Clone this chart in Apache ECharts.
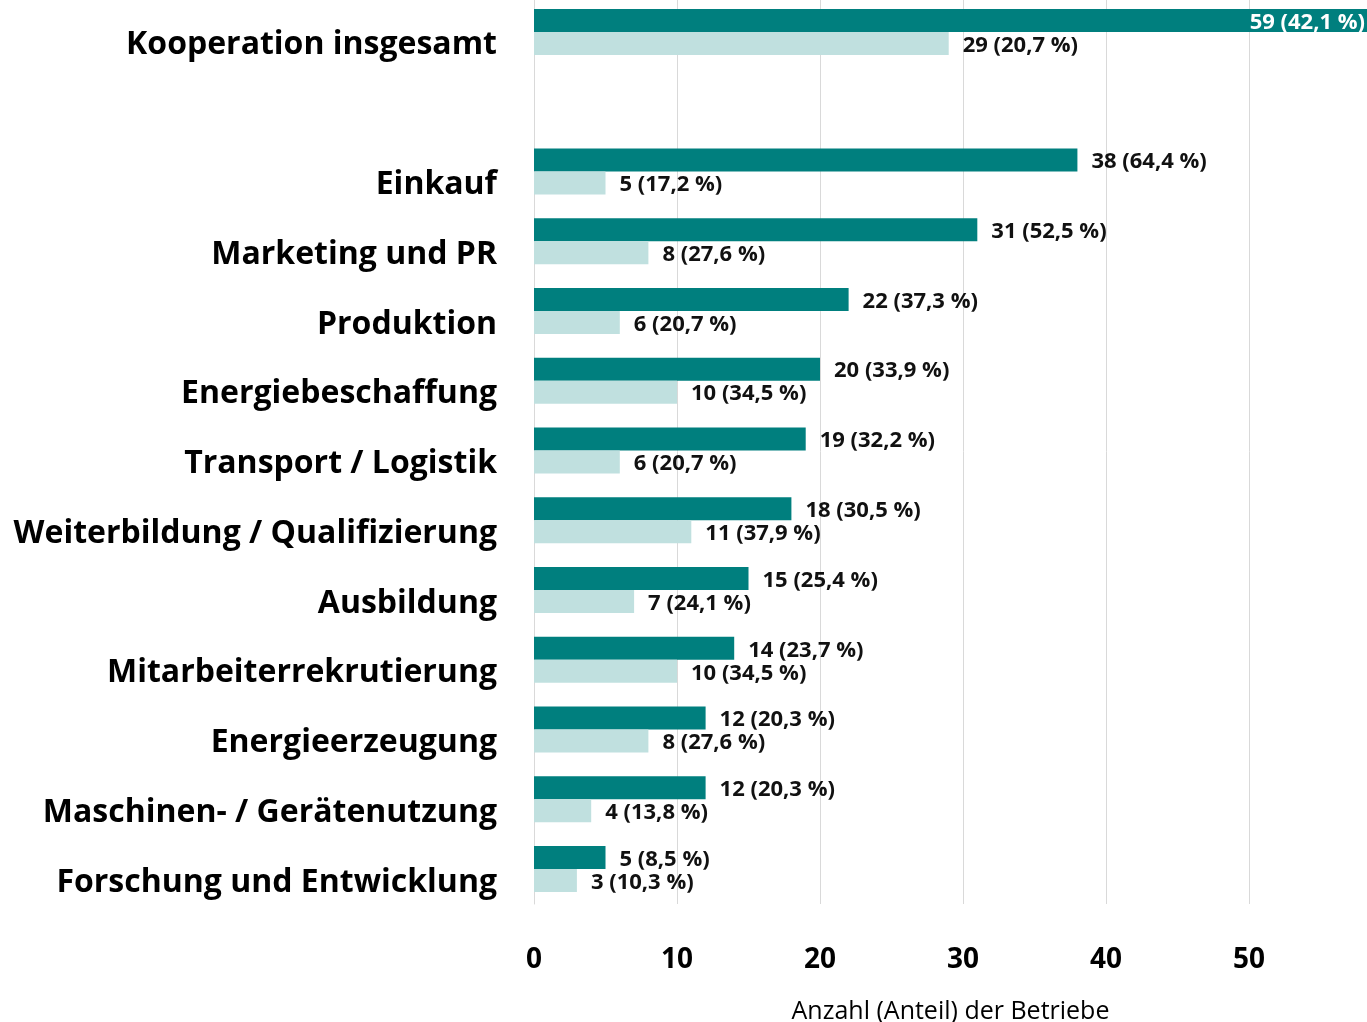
<!DOCTYPE html>
<html>
<head>
<meta charset="utf-8">
<script src="https://cdn.jsdelivr.net/npm/echarts@6/dist/echarts.min.js"></script>
<style>
  html, body { margin: 0; padding: 0; background: #fff; }
  #chart { width: 1367px; height: 1022px; }
</style>
</head>
<body>
<div id="chart"></div>
<script>
// Kategorien von oben nach unten (leere Zeile = Abstand)
const categories = [
    'Kooperation insgesamt', '', 'Einkauf', 'Marketing und PR', 'Produktion',
    'Energiebeschaffung', 'Transport / Logistik', 'Weiterbildung / Qualifizierung',
    'Ausbildung', 'Mitarbeiterrekrutierung', 'Energieerzeugung',
    'Maschinen- / Gerätenutzung', 'Forschung und Entwicklung'
];
const darkCount = [59, null, 38, 31, 22, 20, 19, 18, 15, 14, 12, 12, 5];
const darkShare = ['42,1', null, '64,4', '52,5', '37,3', '33,9', '32,2', '30,5', '25,4', '23,7', '20,3', '20,3', '8,5'];
const lightCount = [29, null, 5, 8, 6, 10, 6, 11, 7, 10, 8, 4, 3];
const lightShare = ['20,7', null, '17,2', '27,6', '20,7', '34,5', '20,7', '37,9', '24,1', '34,5', '27,6', '13,8', '10,3'];
const xTicks = [0, 10, 20, 30, 40, 50];

const fontName = '"Open Sans", Lato, sans-serif';

const makeData = (counts, shares) => counts.map((v, i) => {
    if (v === null) return '-';
    return {value: v, share: shares[i]};
});

const darkData = makeData(darkCount, darkShare);
// erster Balken ragt über den Rand, Beschriftung innen in weiß
darkData[0].label = {position: 'insideRight', color: '#fff', distance: 2};

const chart = echarts.init(document.getElementById('chart'));

const valueLabel = {
    show: true,
    position: 'right',
    distance: 14,
    offset: [0, 2],
    fontFamily: fontName,
    fontWeight: 'bold',
    fontSize: 22,
    color: '#111',
    formatter: p => p.data.value + ' (' + p.data.share + ' %)'
};

const option = {
    backgroundColor: '#fff',
    animation: false,
    grid: {
        left: 534,
        right: 0,
        top: -3,
        bottom: 118,
        outerBoundsMode: 'none'
    },
    xAxis: {
        type: 'value',
        min: 0,
        max: 58.25,
        interval: 10,
        axisLine: {show: false},
        axisTick: {show: false},
        splitLine: {
            show: true,
            lineStyle: {color: '#d9d9d9', width: 1}
        },
        axisLabel: {
            margin: 42,
            fontFamily: fontName,
            fontWeight: 'bold',
            fontSize: 28,
            color: '#000',
            formatter: v => xTicks.indexOf(v) >= 0 ? String(v) : ''
        },
        name: 'Anzahl (Anteil) der Betriebe',
        nameLocation: 'middle',
        nameGap: 95,
        nameTextStyle: {
            fontFamily: fontName,
            fontSize: 25,
            color: '#000'
        }
    },
    yAxis: {
        type: 'category',
        inverse: true,
        data: categories,
        axisLine: {show: true, lineStyle: {color: '#d9d9d9'}},
        axisTick: {show: false},
        axisLabel: {
            margin: 37,
            formatter: v => v ? '{a|' + v + '}' : '',
            rich: {
                a: {
                    fontFamily: fontName,
                    fontWeight: 'bold',
                    fontSize: 32,
                    color: '#000',
                    padding: [27, 0, 0, 0]
                }
            }
        }
    },
    series: [
        {
            type: 'bar',
            data: darkData,
            barWidth: 23,
            barGap: '0%',
            itemStyle: {color: '#007f7e'},
            label: valueLabel
        },
        {
            type: 'bar',
            data: makeData(lightCount, lightShare),
            barWidth: 23,
            barGap: '0%',
            itemStyle: {color: '#c0e0df'},
            label: valueLabel
        }
    ]
};

chart.setOption(option);
</script>
</body>
</html>
